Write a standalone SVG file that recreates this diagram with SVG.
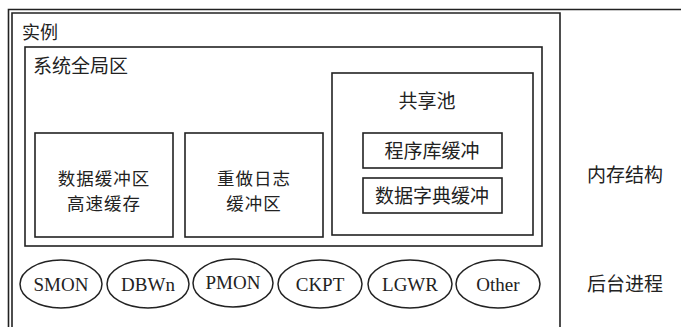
<svg xmlns="http://www.w3.org/2000/svg" width="681" height="327" viewBox="0 0 681 327">
<style>
.box{fill:none;stroke:#222;stroke-width:1.6}
.cn{font-family:"Noto Sans CJK SC","Noto Sans",sans-serif;fill:#222}
.en{font-family:"Liberation Serif",serif;fill:#222;font-size:19px;text-anchor:middle}
.ell{fill:#fff;stroke:#222;stroke-width:1.5}
</style>
<rect width="681" height="327" fill="#fff"/>
<g id="frame">
<path class="box" d="M681 9.5 H8.5 V327"/>
</g>
<g id="instance">
<path class="box" d="M12 327 V13 H560 V327"/>
<text class="cn" x="22" y="39" font-size="18">实例</text>
</g>
<g id="sga">
<rect class="box" x="25" y="47" width="517" height="199"/>
<text class="cn" x="33" y="73" font-size="19">系统全局区</text>
</g>
<g id="db-buffer">
<rect class="box" x="35" y="133" width="138" height="104"/>
<text class="cn" x="104" y="185" font-size="17.5" letter-spacing="1" text-anchor="middle">数据缓冲区</text>
<text class="cn" x="104" y="210" font-size="17.5" letter-spacing="1" text-anchor="middle">高速缓存</text>
</g>
<g id="redo-buffer">
<rect class="box" x="185" y="133" width="138" height="104"/>
<text class="cn" x="254" y="185" font-size="17.5" letter-spacing="1" text-anchor="middle">重做日志</text>
<text class="cn" x="254" y="210" font-size="17.5" letter-spacing="1" text-anchor="middle">缓冲区</text>
</g>
<g id="shared-pool">
<rect class="box" x="332" y="73" width="201" height="162"/>
<text class="cn" x="427" y="108" font-size="19" text-anchor="middle">共享池</text>
</g>
<g id="library-cache">
<rect class="box" x="363" y="133" width="139" height="35"/>
<text class="cn" x="432" y="158" font-size="19" text-anchor="middle">程序库缓冲</text>
</g>
<g id="dict-cache">
<rect class="box" x="363" y="178" width="139" height="35"/>
<text class="cn" x="432" y="203" font-size="19" text-anchor="middle">数据字典缓冲</text>
</g>
<g id="smon"><ellipse class="ell" cx="61" cy="284" rx="41" ry="24"/><text class="en" x="61" y="291">SMON</text></g>
<g id="dbwn"><ellipse class="ell" cx="148" cy="284" rx="41" ry="24"/><text class="en" x="148" y="291">DBWn</text></g>
<g id="pmon"><ellipse class="ell" cx="233" cy="283" rx="40" ry="24"/><text class="en" x="233" y="289">PMON</text></g>
<g id="ckpt"><ellipse class="ell" cx="320" cy="284" rx="42" ry="24"/><text class="en" x="320" y="291">CKPT</text></g>
<g id="lgwr"><ellipse class="ell" cx="410" cy="284" rx="42" ry="24"/><text class="en" x="410" y="291">LGWR</text></g>
<g id="other"><ellipse class="ell" cx="498" cy="284" rx="42" ry="24"/><text class="en" x="498" y="291">Other</text></g>
<g id="labels">
<text class="cn" x="625" y="182" font-size="19" text-anchor="middle">内存结构</text>
<text class="cn" x="625" y="291" font-size="19" text-anchor="middle">后台进程</text>
</g>
<g id="connectors"></g>
</svg>
